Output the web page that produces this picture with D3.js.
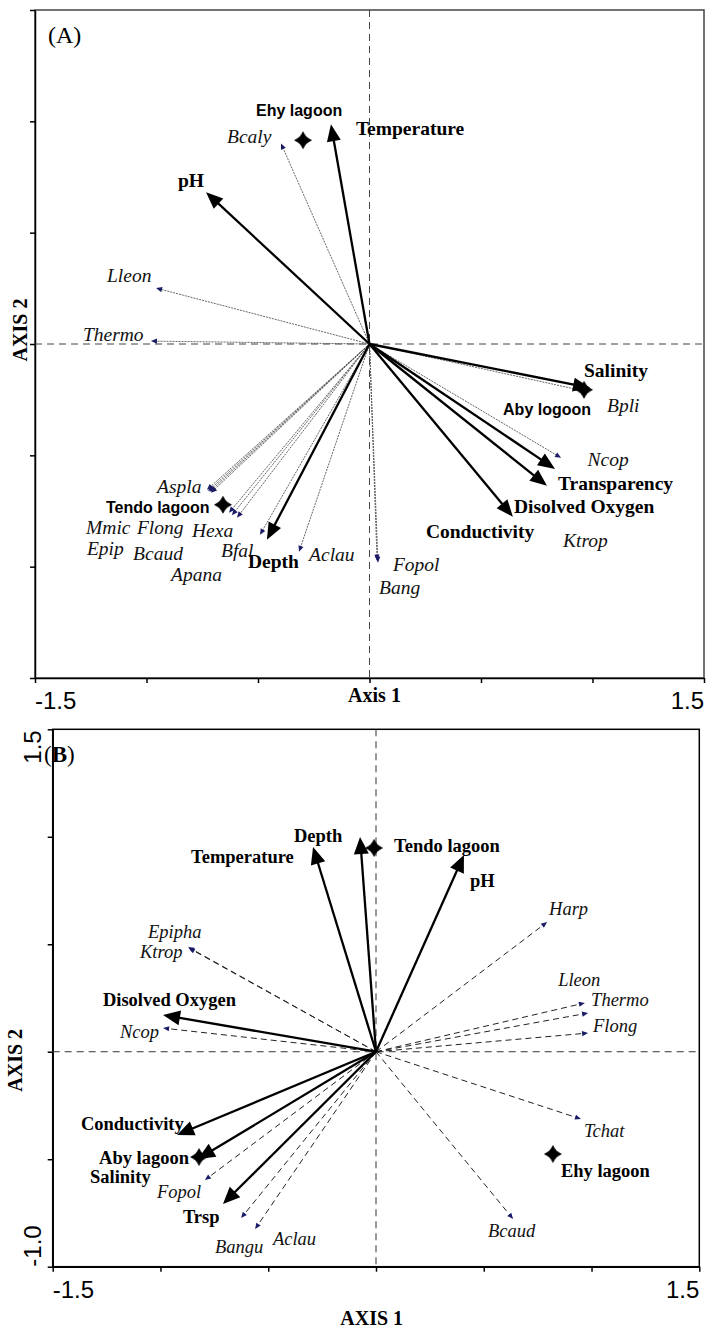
<!DOCTYPE html>
<html><head><meta charset="utf-8">
<script src="https://cdn.jsdelivr.net/npm/d3@7"></script>
<style>body{margin:0;background:#fff}svg{display:block}</style>
</head><body>
<script>
// ---------------- DATA ----------------
const axisTicks = [-1.5,-1,-0.5,0,0.5,1,1.5];
const axisTicksB = [-1,-0.5,0,0.5,1,1.5];
const xTickLabels = ["-1.5","1.5"];
const yTickLabelsB = ["1.5","-1.0"];

// Panel A — environmental variables
const envA = ["Temperature","pH","Salinity","Transparency","Disolved Oxygen","Conductivity","Depth"];
const envAx = [-0.173,-0.733,0.989,0.832,0.796,0.643,-0.460];
const envAy = [0.987,0.682,-0.197,-0.561,-0.637,-0.776,-0.879];
const envALabX = [-0.061,-0.859,0.962,0.845,0.648,0.253,-0.545];
const envALabY = [0.937,0.704,-0.148,-0.655,-0.758,-0.870,-1.004];

// Panel A — species
const sppA = ["Bcaly","Lleon","Thermo","Aspla","Mmic","Epip","Bcaud","Flong","Apana","Hexa","Bfal","Aclau","Fopol","Bang","Ncop","Bpli","Ktrop"];
const sppAx = [-0.397,-0.957,-0.980,-0.729,-0.724,-0.717,-0.711,-0.630,-0.617,-0.594,-0.491,-0.316,0.038,0.034,0.859,0.980,0.787];
const sppAy = [0.901,0.251,0.013,-0.655,-0.661,-0.664,-0.668,-0.758,-0.769,-0.780,-0.857,-0.933,-0.982,-0.973,-0.511,-0.215,-0.628];
const sppALabX = [-0.639,-1.177,-1.285,-0.953,-1.271,-1.267,-1.060,-1.043,-0.890,-0.796,-0.666,-0.271,0.105,0.043,0.978,1.065,0.868];
const sppALabY = [0.901,0.278,0.013,-0.668,-0.852,-0.946,-0.969,-0.852,-1.063,-0.865,-0.955,-0.973,-1.018,-1.121,-0.547,-0.305,-0.910];

// Panel A — sites
const sitesA = ["Ehy lagoon","Tendo lagoon","Aby logoon"];
const sitesAx = [-0.298,-0.657,0.962];
const sitesAy = [0.915,-0.722,-0.206];
const sitesALabX = [-0.509,-1.182,0.599];
const sitesALabY = [1.022,-0.758,-0.318];

// Panel B — environmental variables
const envB = ["Temperature","Depth","pH","Disolved Oxygen","Conductivity","Salinity","Trsp"];
const envBx = [-0.292,-0.074,0.408,-0.988,-0.923,-0.826,-0.710];
const envBy = [0.952,0.999,0.915,0.171,-0.387,-0.499,-0.708];
const envBLabX = [-0.858,-0.381,0.436,-1.267,-1.369,-1.327,-0.896];
const envBLabY = [0.880,0.975,0.766,0.213,-0.365,-0.611,-0.798];

// Panel B — species
const sppB = ["Epipha","Ktrop","Ncop","Fopol","Bangu","Aclau","Harp","Lleon","Thermo","Flong","Tchat","Bcaud"];
const sppBx = [-0.872,-0.868,-0.988,-0.794,-0.626,-0.561,0.794,0.984,0.969,0.984,0.951,0.636];
const sppBy = [0.487,0.482,0.110,-0.597,-0.774,-0.825,0.603,0.180,0.227,0.087,-0.313,-0.778];
const sppBLabX = [-1.058,-1.095,-1.188,-1.016,-0.747,-0.478,0.803,0.845,0.998,1.007,0.965,0.520];
const sppBLabY = [0.529,0.436,0.064,-0.682,-0.938,-0.900,0.636,0.306,0.213,0.092,-0.397,-0.862];

// Panel B — sites
const sitesB = ["Tendo lagoon","Aby lagoon","Ehy lagoon"];
const sitesBx = [-0.009,-0.821,0.821];
const sitesBy = [0.948,-0.490,-0.476];
const sitesBLabX = [0.084,-1.285,0.858];
const sitesBLabY = [0.929,-0.522,-0.583];

// ---------------- DRAWING ----------------
const W = 707, H = 1332;
const SERIF = "'Liberation Serif','Times New Roman',serif";
const SANS = "'Liberation Sans',Arial,sans-serif";
const svg = d3.select("body").append("svg").attr("width", W).attr("height", H);
svg.append("rect").attr("width", W).attr("height", H).attr("fill", "#fff");

function headPath(x0, y0, x1, y1, len, hw) {
  const dx = x1 - x0, dy = y1 - y0, L = Math.hypot(dx, dy);
  const ux = dx / L, uy = dy / L;
  const bx = x1 - ux * len, by = y1 - uy * len;
  return `M${x1},${y1}L${bx - uy * hw},${by + ux * hw}L${bx + uy * hw},${by - ux * hw}Z`;
}
function starPath(cx, cy, r, k) {
  return `M${cx},${cy - r}Q${cx + k},${cy - k} ${cx + r},${cy}Q${cx + k},${cy + k} ${cx},${cy + r}Q${cx - k},${cy + k} ${cx - r},${cy}Q${cx - k},${cy - k} ${cx},${cy - r}Z`;
}

function panel(cfg) {
  const g = svg.append("g");
  const x = cfg.x, y = cfg.y;
  const [x0, x1] = x.range(), [y1, y0] = y.range();
  g.append("rect").attr("x", x0).attr("y", y0).attr("width", x1 - x0).attr("height", y1 - y0)
    .attr("fill", "none").attr("stroke", cfg.frameColor).attr("stroke-width", 1.5);
  const ax = g.append("g").attr("transform", `translate(0,${y1})`)
    .call(d3.axisBottom(x).tickValues(axisTicks).tickSize(5).tickSizeOuter(0).tickFormat(""));
  const ay = g.append("g").attr("transform", `translate(${x0},0)`)
    .call(d3.axisLeft(y).tickValues(cfg.yTicks).tickSize(5).tickSizeOuter(0).tickFormat(""));
  [ax, ay].forEach(a => { a.selectAll("path,line").attr("stroke", "#000").attr("stroke-width", 1.5); });
  g.append("line").attr("x1", x0).attr("x2", x1).attr("y1", y(0)).attr("y2", y(0))
    .attr("stroke", cfg.crossColor).attr("stroke-width", 1).attr("stroke-dasharray", "7,5");
  g.append("line").attr("x1", x(0)).attr("x2", x(0)).attr("y1", y0).attr("y2", y1)
    .attr("stroke", cfg.crossColor).attr("stroke-width", 1).attr("stroke-dasharray", "7,5");

  const ox = x(0), oy = y(0);
  cfg.spp.forEach((n, i) => {
    const tx = x(cfg.sppX[i]), ty = y(cfg.sppY[i]);
    const L = Math.hypot(tx - ox, ty - oy), bx = tx - (tx - ox) / L * 4, by = ty - (ty - oy) / L * 4;
    g.append("line").attr("x1", ox).attr("y1", oy).attr("x2", bx).attr("y2", by)
      .attr("stroke", cfg.sppColor).attr("stroke-width", cfg.sppWidth).attr("stroke-dasharray", cfg.sppDash);
    g.append("path").attr("d", headPath(ox, oy, tx, ty, 6, 2.6)).attr("fill", "#1a1a66");
  });
  cfg.env.forEach((n, i) => {
    const tx = x(cfg.envX[i]), ty = y(cfg.envY[i]);
    const L = Math.hypot(tx - ox, ty - oy), bx = tx - (tx - ox) / L * 14, by = ty - (ty - oy) / L * 14;
    g.append("line").attr("x1", ox).attr("y1", oy).attr("x2", bx).attr("y2", by)
      .attr("stroke", "#000").attr("stroke-width", 2.3);
    g.append("path").attr("d", headPath(ox, oy, tx, ty, cfg.headLen, cfg.headW)).attr("fill", "#000");
  });
  cfg.sites.forEach((n, i) => {
    g.append("path").attr("d", starPath(x(cfg.sitesX[i]), y(cfg.sitesY[i]), 8.5, 2.4))
      .attr("fill", "#000").attr("stroke", "#000").attr("stroke-width", 0.6);
  });
  cfg.spp.forEach((n, i) => {
    g.append("text").attr("x", x(cfg.sppLX[i])).attr("y", y(cfg.sppLY[i])).text(n)
      .attr("font-family", SERIF).attr("font-style", "italic").attr("font-size", cfg.fs).attr("fill", "#111");
  });
  cfg.env.forEach((n, i) => {
    g.append("text").attr("x", x(cfg.envLX[i])).attr("y", y(cfg.envLY[i])).text(n)
      .attr("font-family", SERIF).attr("font-weight", "bold").attr("font-size", cfg.fs).attr("fill", "#000");
  });
  cfg.sites.forEach((n, i) => {
    g.append("text").attr("x", x(cfg.sitesLX[i])).attr("y", y(cfg.sitesLY[i])).text(n)
      .attr("font-family", cfg.siteFont).attr("font-weight", "bold").attr("font-size", cfg.siteFs).attr("fill", "#000");
  });
  g.append("text").attr("x", x(-1.5)).attr("y", y1 + cfg.tickLabDy).text(xTickLabels[0])
    .attr("font-family", SANS).attr("font-size", 24).attr("text-anchor", "start");
  g.append("text").attr("x", x(1.5)).attr("y", y1 + cfg.tickLabDy).text(xTickLabels[1])
    .attr("font-family", SANS).attr("font-size", 24).attr("text-anchor", "end");
  return g;
}

const xA = d3.scaleLinear().domain([-1.5, 1.5]).range([35, 704]);
const yA = d3.scaleLinear().domain([-1.5, 1.5]).range([678, 10]);
const gA = panel({
  x: xA, y: yA, yTicks: axisTicks, frameColor: "#444", crossColor: "#444",
  spp: sppA, sppX: sppAx, sppY: sppAy, sppLX: sppALabX, sppLY: sppALabY,
  sppColor: "#555", sppWidth: 0.9, sppDash: "2,1",
  env: envA, envX: envAx, envY: envAy, envLX: envALabX, envLY: envALabY,
  sites: sitesA, sitesX: sitesAx, sitesY: sitesAy, sitesLX: sitesALabX, sitesLY: sitesALabY,
  siteFont: SANS, siteFs: 16, fs: 19.5, headLen: 17, headW: 7, tickLabDy: 31
});
gA.append("text").attr("x", 48).attr("y", 43).text("(A)").attr("font-family", SERIF).attr("font-size", 24);
gA.append("text").attr("x", xA(0) + 5).attr("y", 702).text("Axis 1").attr("text-anchor", "middle")
  .attr("font-family", SERIF).attr("font-weight", "bold").attr("font-size", 20);
gA.append("text").attr("transform", `translate(27,330) rotate(-90)`).text("AXIS 2").attr("text-anchor", "middle")
  .attr("font-family", SERIF).attr("font-weight", "bold").attr("font-size", 20);

const xB = d3.scaleLinear().domain([-1.5, 1.5]).range([52.7, 699.3]);
const yB = d3.scaleLinear().domain([-1, 1.5]).range([1266.7, 729.3]);
const gB = panel({
  x: xB, y: yB, yTicks: axisTicksB, frameColor: "#000", crossColor: "#333",
  spp: sppB, sppX: sppBx, sppY: sppBy, sppLX: sppBLabX, sppLY: sppBLabY,
  sppColor: "#222", sppWidth: 1, sppDash: "6,4",
  env: envB, envX: envBx, envY: envBy, envLX: envBLabX, envLY: envBLabY,
  sites: sitesB, sitesX: sitesBx, sitesY: sitesBy, sitesLX: sitesBLabX, sitesLY: sitesBLabY,
  siteFont: SERIF, siteFs: 18.5, fs: 18.5, headLen: 17, headW: 7.5, tickLabDy: 31
});
const tB = gB.append("text").attr("x", 44).attr("y", 762).attr("font-family", SERIF).attr("font-size", 23);
tB.append("tspan").text("(");
tB.append("tspan").attr("font-weight", "bold").text("B");
tB.append("tspan").text(")");
gB.append("text").attr("transform", `translate(41,${yB(1.5) + 1}) rotate(-90)`).text(yTickLabelsB[0])
  .attr("text-anchor", "end").attr("font-family", SANS).attr("font-size", 24);
gB.append("text").attr("transform", `translate(41,${yB(-1)}) rotate(-90)`).text(yTickLabelsB[1])
  .attr("text-anchor", "start").attr("font-family", SANS).attr("font-size", 24);
gB.append("text").attr("transform", `translate(22,${yB(-0.04)}) rotate(-90)`).text("AXIS 2").attr("text-anchor", "middle")
  .attr("font-family", SERIF).attr("font-weight", "bold").attr("font-size", 20);
gB.append("text").attr("x", xB(-0.02)).attr("y", 1325).text("AXIS 1").attr("text-anchor", "middle")
  .attr("font-family", SERIF).attr("font-weight", "bold").attr("font-size", 20);
</script>
</body></html>
